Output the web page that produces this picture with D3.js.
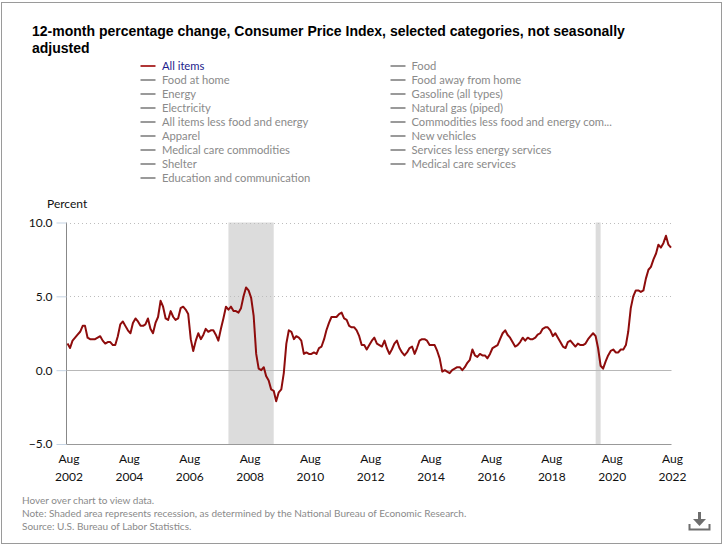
<!DOCTYPE html>
<html>
<head>
<meta charset="utf-8">
<script src="https://cdn.jsdelivr.net/npm/d3@7"></script>
<style>
  html, body { margin: 0; padding: 0; background: #fff; }
  svg { display: block; }
</style>
</head>
<body>
<svg id="chart" width="728" height="549"></svg>
<script>
// ---------------- DATA ----------------
const seriesName = "All items";
const startMonth = "2002-08";
// 12-month percent change, CPI-U All items, monthly, Aug 2002 .. Aug 2022
const allItems = [
  1.8, 1.5, 2.0, 2.2, 2.4,                                   // 2002 Aug-Dec
  2.6, 3.0, 3.0, 2.2, 2.1, 2.1, 2.1, 2.2, 2.3, 2.0, 1.8, 1.9, // 2003
  1.9, 1.7, 1.7, 2.3, 3.1, 3.3, 3.0, 2.7, 2.5, 3.2, 3.5, 3.3, // 2004
  3.0, 3.0, 3.1, 3.5, 2.8, 2.5, 3.2, 3.6, 4.7, 4.3, 3.5, 3.4, // 2005
  4.0, 3.6, 3.4, 3.5, 4.2, 4.3, 4.1, 3.8, 2.1, 1.3, 2.0, 2.5, // 2006
  2.1, 2.4, 2.8, 2.6, 2.7, 2.7, 2.4, 2.0, 2.8, 3.5, 4.3, 4.1, // 2007
  4.3, 4.0, 4.0, 3.9, 4.2, 5.0, 5.6, 5.4, 4.9, 3.7, 1.1, 0.1, // 2008
  0.0, 0.2, -0.4, -0.7, -1.3, -1.4, -2.1, -1.5, -1.3, -0.2, 1.8, 2.7, // 2009
  2.6, 2.1, 2.3, 2.2, 2.0, 1.1, 1.2, 1.1, 1.1, 1.2, 1.1, 1.5, // 2010
  1.6, 2.1, 2.7, 3.2, 3.6, 3.6, 3.6, 3.8, 3.9, 3.5, 3.4, 3.0, // 2011
  2.9, 2.9, 2.7, 2.3, 1.7, 1.7, 1.4, 1.7, 2.0, 2.2, 1.8, 1.7, // 2012
  1.6, 2.0, 1.5, 1.1, 1.4, 1.8, 2.0, 1.5, 1.2, 1.0, 1.2, 1.5, // 2013
  1.6, 1.1, 1.5, 2.0, 2.1, 2.1, 2.0, 1.7, 1.7, 1.7, 1.3, 0.8, // 2014
  -0.1, 0.0, -0.1, -0.2, 0.0, 0.1, 0.2, 0.2, 0.0, 0.2, 0.5, 0.7, // 2015
  1.4, 1.0, 0.9, 1.1, 1.0, 1.0, 0.8, 1.1, 1.5, 1.6, 1.7, 2.1, // 2016
  2.5, 2.7, 2.4, 2.2, 1.9, 1.6, 1.7, 1.9, 2.2, 2.0, 2.2, 2.1, // 2017
  2.1, 2.2, 2.4, 2.5, 2.8, 2.9, 2.9, 2.7, 2.3, 2.5, 2.2, 1.9, // 2018
  1.6, 1.5, 1.9, 2.0, 1.8, 1.6, 1.8, 1.7, 1.7, 1.8, 2.1, 2.3, // 2019
  2.5, 2.3, 1.5, 0.3, 0.1, 0.6, 1.0, 1.3, 1.4, 1.2, 1.2, 1.4, // 2020
  1.4, 1.7, 2.6, 4.2, 5.0, 5.4, 5.4, 5.3, 5.4, 6.2, 6.8, 7.0, // 2021
  7.5, 7.9, 8.5, 8.3, 8.6, 9.1, 8.5, 8.3                      // 2022 Jan-Aug
];
const recessions = [["2007-12", "2009-06"], ["2020-02", "2020-04"]];
const yTicks = [-5, 0, 5, 10];
const xTickYears = [2002, 2004, 2006, 2008, 2010, 2012, 2014, 2016, 2018, 2020, 2022];
const xTickMonthLabel = "Aug";
const legendCol1 = ["All items", "Food at home", "Energy", "Electricity", "All items less food and energy",
  "Apparel", "Medical care commodities", "Shelter", "Education and communication"];
const legendCol2 = ["Food", "Food away from home", "Gasoline (all types)", "Natural gas (piped)",
  "Commodities less food and energy com...", "New vehicles", "Services less energy services", "Medical care services"];
const titleLines = ["12-month percentage change, Consumer Price Index, selected categories, not seasonally", "adjusted"];
const yAxisTitle = "Percent";
const footerLines = ["Hover over chart to view data.",
  "Note: Shaded area represents recession, as determined by the National Bureau of Economic Research.",
  "Source: U.S. Bureau of Labor Statistics."];

// ---------------- DRAW ----------------
const parseMonth = d3.timeParse("%Y-%m");
const start = parseMonth(startMonth);
const data = allItems.map((v, i) => ({ date: d3.timeMonth.offset(start, i), value: v }));

const svg = d3.select("#chart");
const uiFont = "Lato, 'Open Sans', sans-serif";

// outer frame
svg.append("rect").attr("x", 1.5).attr("y", 2.5).attr("width", 720).attr("height", 541)
  .attr("fill", "#fff").attr("stroke", "#9a9a9a").attr("stroke-width", 1);

// title
const title = svg.append("text").attr("x", 32).attr("y", 36)
  .attr("font-family", "'Liberation Sans', Arial, sans-serif").attr("font-weight", "bold")
  .attr("font-size", 14).attr("fill", "#000");
titleLines.forEach((t, i) => title.append("tspan").attr("x", 32).attr("dy", i === 0 ? 0 : 16.5).text(t));

// legend
function legendColumn(items, lx, tx) {
  items.forEach((name, i) => {
    const cy = 66 + i * 14;
    const isMain = name === seriesName;
    svg.append("line").attr("x1", lx).attr("x2", lx + 15).attr("y1", cy).attr("y2", cy)
      .attr("stroke", isMain ? "#b03636" : "#9a9a9a").attr("stroke-width", 2);
    svg.append("text").attr("x", tx).attr("y", cy).attr("dy", "0.35em")
      .attr("font-family", uiFont).attr("font-size", 11.2)
      .attr("fill", isMain ? "#1c1c8c" : "#8a8a8a").text(name);
  });
}
legendColumn(legendCol1, 140.5, 162);
legendColumn(legendCol2, 390.5, 411.5);

// scales
const x = d3.scaleTime().domain([start, data[data.length - 1].date]).range([67.5, 671]);
const y = d3.scaleLinear().domain([-5, 10]).range([444, 222.5]);
const plotLeft = 66, plotRight = 671.5;

// recession shading
recessions.forEach(([a, b]) => {
  const x0 = x(parseMonth(a)), x1 = x(parseMonth(b));
  svg.append("rect").attr("x", x0).attr("y", y(10)).attr("width", x1 - x0).attr("height", y(-5) - y(10))
    .attr("fill", "#dcdcdc");
});

// gridlines
svg.append("g").selectAll("line").data(yTicks.filter(d => d > -5)).join("line")
  .attr("x1", plotLeft).attr("x2", plotRight)
  .attr("y1", d => Math.round(y(d)) + 0.5).attr("y2", d => Math.round(y(d)) + 0.5)
  .attr("stroke", d => d === 0 ? "#b8b8b8" : "#bdbdbd")
  .attr("stroke-dasharray", d => d === 0 ? null : "1,3");

// x axis baseline
svg.append("line").attr("x1", plotLeft).attr("x2", plotRight)
  .attr("y1", Math.round(y(-5)) + 0.5).attr("y2", Math.round(y(-5)) + 0.5)
  .attr("stroke", "#999");

// y axis
const yAxis = svg.append("g").attr("transform", `translate(${plotLeft + 0.5},0)`)
  .call(d3.axisLeft(y).tickValues(yTicks).tickFormat(d3.format(".1f")).tickSize(10).tickPadding(4));
yAxis.select(".domain").attr("stroke", "#888").attr("d", `M0,${y(10)}V${y(-5)}`);
yAxis.selectAll(".tick line").attr("stroke", "#c5d3e3");
yAxis.selectAll(".tick text").attr("font-family", uiFont).attr("font-size", 12).attr("fill", "#111");

svg.append("text").attr("x", 47).attr("y", 204).attr("dy", "0.35em")
  .attr("font-family", uiFont).attr("font-size", 12).attr("fill", "#111").text(yAxisTitle);

// x axis labels
const xAxis = svg.append("g").attr("transform", `translate(0,${y(-5)})`)
  .call(d3.axisBottom(x).tickValues(xTickYears.map(yr => new Date(yr, 7, 1))).tickSize(0).tickFormat(() => ""));
xAxis.select(".domain").remove();
xAxis.selectAll(".tick text").each(function (d) {
  const t = d3.select(this).attr("font-family", uiFont).attr("font-size", 12).attr("fill", "#111")
    .attr("y", 0).attr("dy", null);
  t.append("tspan").attr("x", 1).attr("y", 15).attr("dy", "0.35em").text(xTickMonthLabel);
  t.append("tspan").attr("x", 1).attr("y", 33).attr("dy", "0.35em").text(d.getFullYear());
});

// main line
svg.append("path").datum(data)
  .attr("fill", "none").attr("stroke", "#8e0c0c").attr("stroke-width", 2)
  .attr("stroke-linejoin", "round")
  .attr("d", d3.line().x(d => x(d.date)).y(d => y(d.value)));

// footer
footerLines.forEach((t, i) => {
  svg.append("text").attr("x", 22).attr("y", 500 + i * 13).attr("dy", "0.35em")
    .attr("font-family", uiFont).attr("font-size", 10).attr("fill", "#8a8a8a").text(t);
});

// download icon
const icon = svg.append("g").attr("fill", "none").attr("stroke", "#6e6e6e");
icon.append("path").attr("d", "M699.5,512 V522").attr("stroke-width", 3);
icon.append("path").attr("d", "M693,519 L699.5,526 L706,519 Z").attr("fill", "#6e6e6e").attr("stroke", "none");
icon.append("path").attr("d", "M689.5,524 V529.5 H709.5 V524").attr("stroke-width", 2);
</script>
</body>
</html>
